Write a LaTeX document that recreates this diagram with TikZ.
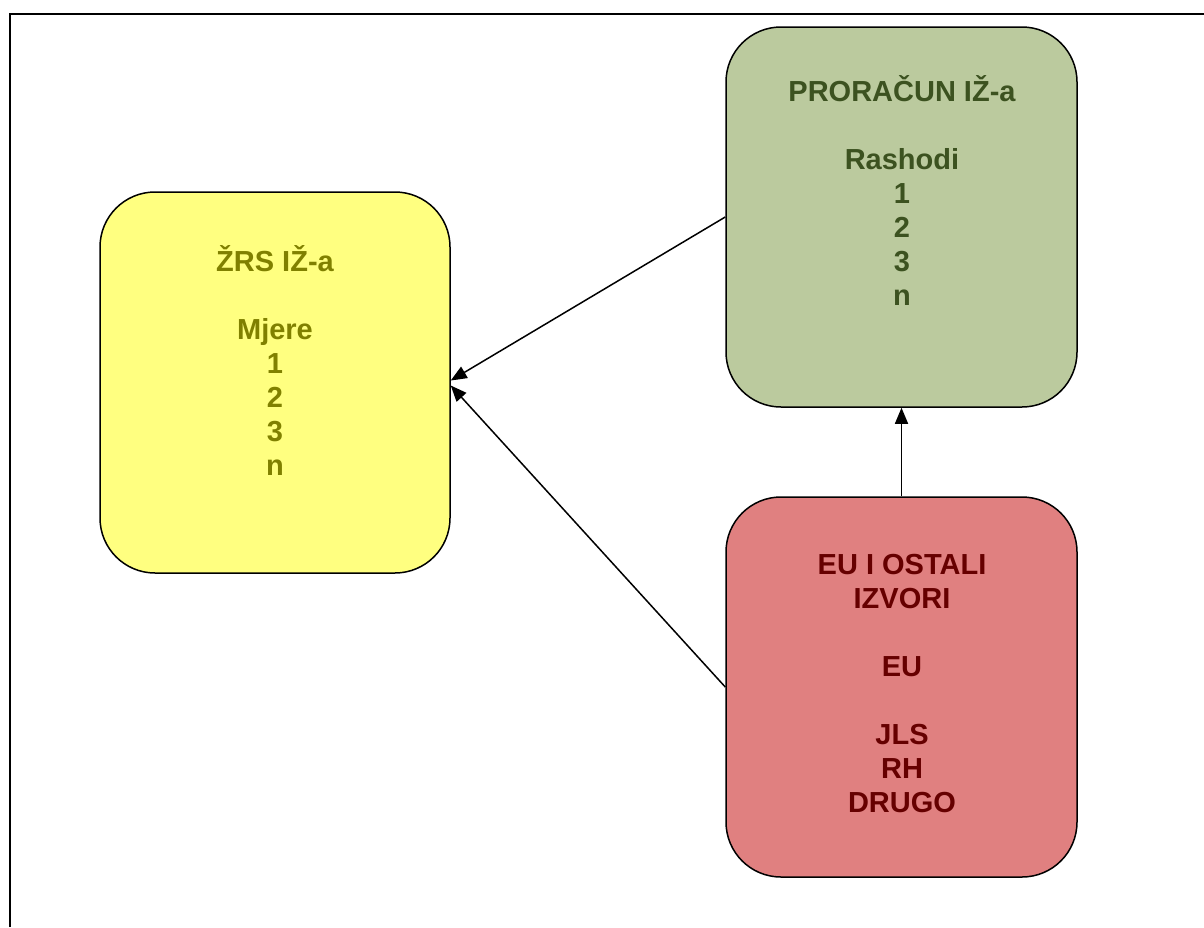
\documentclass[tikz,border=0pt]{standalone}
\usepackage{fontspec}
\setmainfont{Liberation Sans}
\usetikzlibrary{arrows.meta}
\definecolor{yfill}{RGB}{255,255,128}
\definecolor{gfill}{RGB}{187,202,158}
\definecolor{rfill}{RGB}{224,128,128}
\definecolor{ytext}{RGB}{128,128,0}
\definecolor{gtext}{RGB}{60,82,32}
\definecolor{rtext}{RGB}{102,0,0}
\begin{document}
\begin{tikzpicture}[x=1pt,y=-1pt,
  box/.style={draw=black,line width=1.5pt,rounded corners=55pt,inner sep=0pt},
  label/.style={align=center,inner sep=0pt,font=\bfseries\fontsize{29}{34}\selectfont},
  conn/.style={line width=1.5pt,-{Triangle[length=16pt,width=13pt]}}]
\useasboundingbox (0,0) rectangle (1204,927);
\draw[line width=2pt] (10,927) -- (10,14) -- (1204,14);
\node[box,fill=yfill,minimum width=350pt,minimum height=381pt] (y) at (275,382.5) {};
\node[box,fill=gfill,minimum width=351pt,minimum height=380pt] (g) at (901.5,217) {};
\node[box,fill=rfill,minimum width=351pt,minimum height=380pt] (r) at (901.5,687) {};
\node[label,text=ytext] (yt) at (275,360) {ŽRS IŽ-a\\[34pt]Mjere\\1\\2\\3\\n};
\node[label,text=gtext] (gt) at (902,191) {PRORAČUN IŽ-a\\[34pt]Rashodi\\1\\2\\3\\n};
\node[label,text=rtext] (rt) at (902,683.5) {EU I OSTALI\\IZVORI\\[34pt]EU\\[34pt]JLS\\RH\\DRUGO};
\draw[conn] (g.west) -- ([yshift=2pt]y.east);
\draw[conn] (r.west) -- ([yshift=-3pt]y.east);
\draw[conn] (r.north) -- (g.south);
\end{tikzpicture}
\end{document}
